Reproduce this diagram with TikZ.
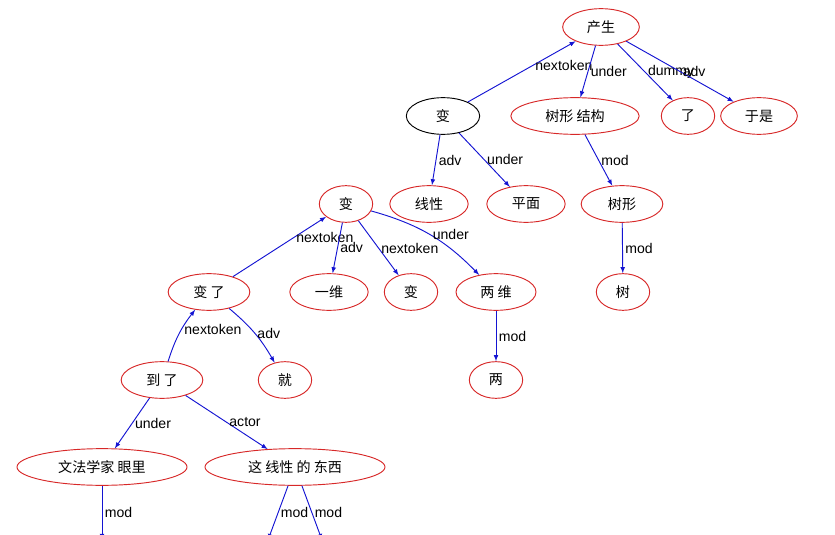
\documentclass[tikz,border=0pt]{standalone}
\usepackage{fontspec}
\setmainfont{Noto Sans CJK SC}
\setsansfont{Liberation Sans}
\usepackage{tikz}
\usetikzlibrary{shapes.geometric}
\definecolor{edgeblue}{RGB}{20,20,210}
\definecolor{nodered}{RGB}{215,40,40}

\begin{document}
\begin{tikzpicture}[x=0.03cm,y=-0.03cm,
 word/.style={ellipse,draw=nodered,thick,minimum height=1.1cm,inner sep=0pt,font=\large},
 dep/.style={draw=edgeblue,thick,-latex},
 rel/.style={font=\sffamily\large,right,inner sep=2pt,pos=.5}]
 \useasboundingbox (0,0) rectangle (835,535);
 % top part
 \node[word,minimum width=2.3cm] (chansheng) at (601,27) {产生};
 \node[word,draw=black,minimum width=2.2cm] (bianA) at (443,116) {变};
 \node[word,minimum width=3.85cm] (shuxing) at (575,116) {树形 结构};
 \node[word,minimum width=1.6cm] (le) at (688,116) {了};
 \node[word,minimum width=2.3cm] (yushi) at (759,116) {于是};
 \node[word,minimum width=2.35cm] (xianxing) at (429,204) {线性};
 \node[word,minimum width=2.35cm] (pingmian) at (526,204) {平面};
 \node[word,minimum width=2.45cm] (shuxingB) at (622,204) {树形};
 \node[word,minimum width=1.6cm] (bianB) at (346,204) {变};
 \node[word,minimum width=2.45cm] (bianle) at (209,292) {变 了};
 \node[word,minimum width=2.35cm] (yiwei) at (329,292) {一维};
 \node[word,minimum width=1.6cm] (bianC) at (411,292) {变};
 \node[word,minimum width=2.4cm] (liangwei) at (496,292) {两 维};
 \node[word,minimum width=1.6cm] (shu) at (623,292) {树};
 \node[word,minimum width=2.45cm] (daole) at (162,380) {到 了};
 \node[word,minimum width=1.6cm] (jiu) at (285,380) {就};
 \node[word,minimum width=1.6cm] (liang) at (496,380) {两};
 \node[word,minimum width=5.1cm] (yanli) at (102,467) {文法学家 眼里};
 \node[word,minimum width=5.4cm] (dongxi) at (295,467) {这 线性 的 东西};
 \coordinate (endA) at (102,540);
 \coordinate (endB) at (268,540);
 \coordinate (endC) at (322,540);
 % dependencies
 \draw[dep] (bianA) -- node[rel,pos=.6] {nextoken} (chansheng);
 \draw[dep] (chansheng) -- node[rel] {under} (shuxing);
 \draw[dep] (chansheng) -- node[rel] {dummy} (le);
 \draw[dep] (chansheng) -- node[rel] {adv} (yushi);
 \draw[dep] (bianA) -- node[rel] {adv} (xianxing);
 \draw[dep] (bianA) -- node[rel] {under} (pingmian);
 \draw[dep] (shuxing) -- node[rel] {mod} (shuxingB);
 \draw[dep] (shuxingB) -- node[rel] {mod} (shu);
 \draw[dep] (bianle) -- node[rel,pos=.65] {nextoken} (bianB);
 \draw[dep] (bianB) -- node[rel] {adv} (yiwei);
 \draw[dep] (bianB) -- node[rel] {nextoken} (bianC);
 \draw[dep] (bianB) to[bend left=15] node[rel] {under} (liangwei);
 \draw[dep] (liangwei) -- node[rel] {mod} (liang);
 \draw[dep] (daole) to[bend left=10] node[rel,pos=.6] {nextoken} (bianle);
 \draw[dep] (bianle) to[bend left=10] node[rel] {adv} (jiu);
 \draw[dep] (daole) -- node[rel] {under} (yanli);
 \draw[dep] (daole) -- node[rel] {actor} (dongxi);
 \draw[dep] (yanli) -- node[rel] {mod} (endA);
 \draw[dep] (dongxi) -- node[rel] {mod} (endB);
 \draw[dep] (dongxi) -- node[rel] {mod} (endC);
\end{tikzpicture}
\end{document}
